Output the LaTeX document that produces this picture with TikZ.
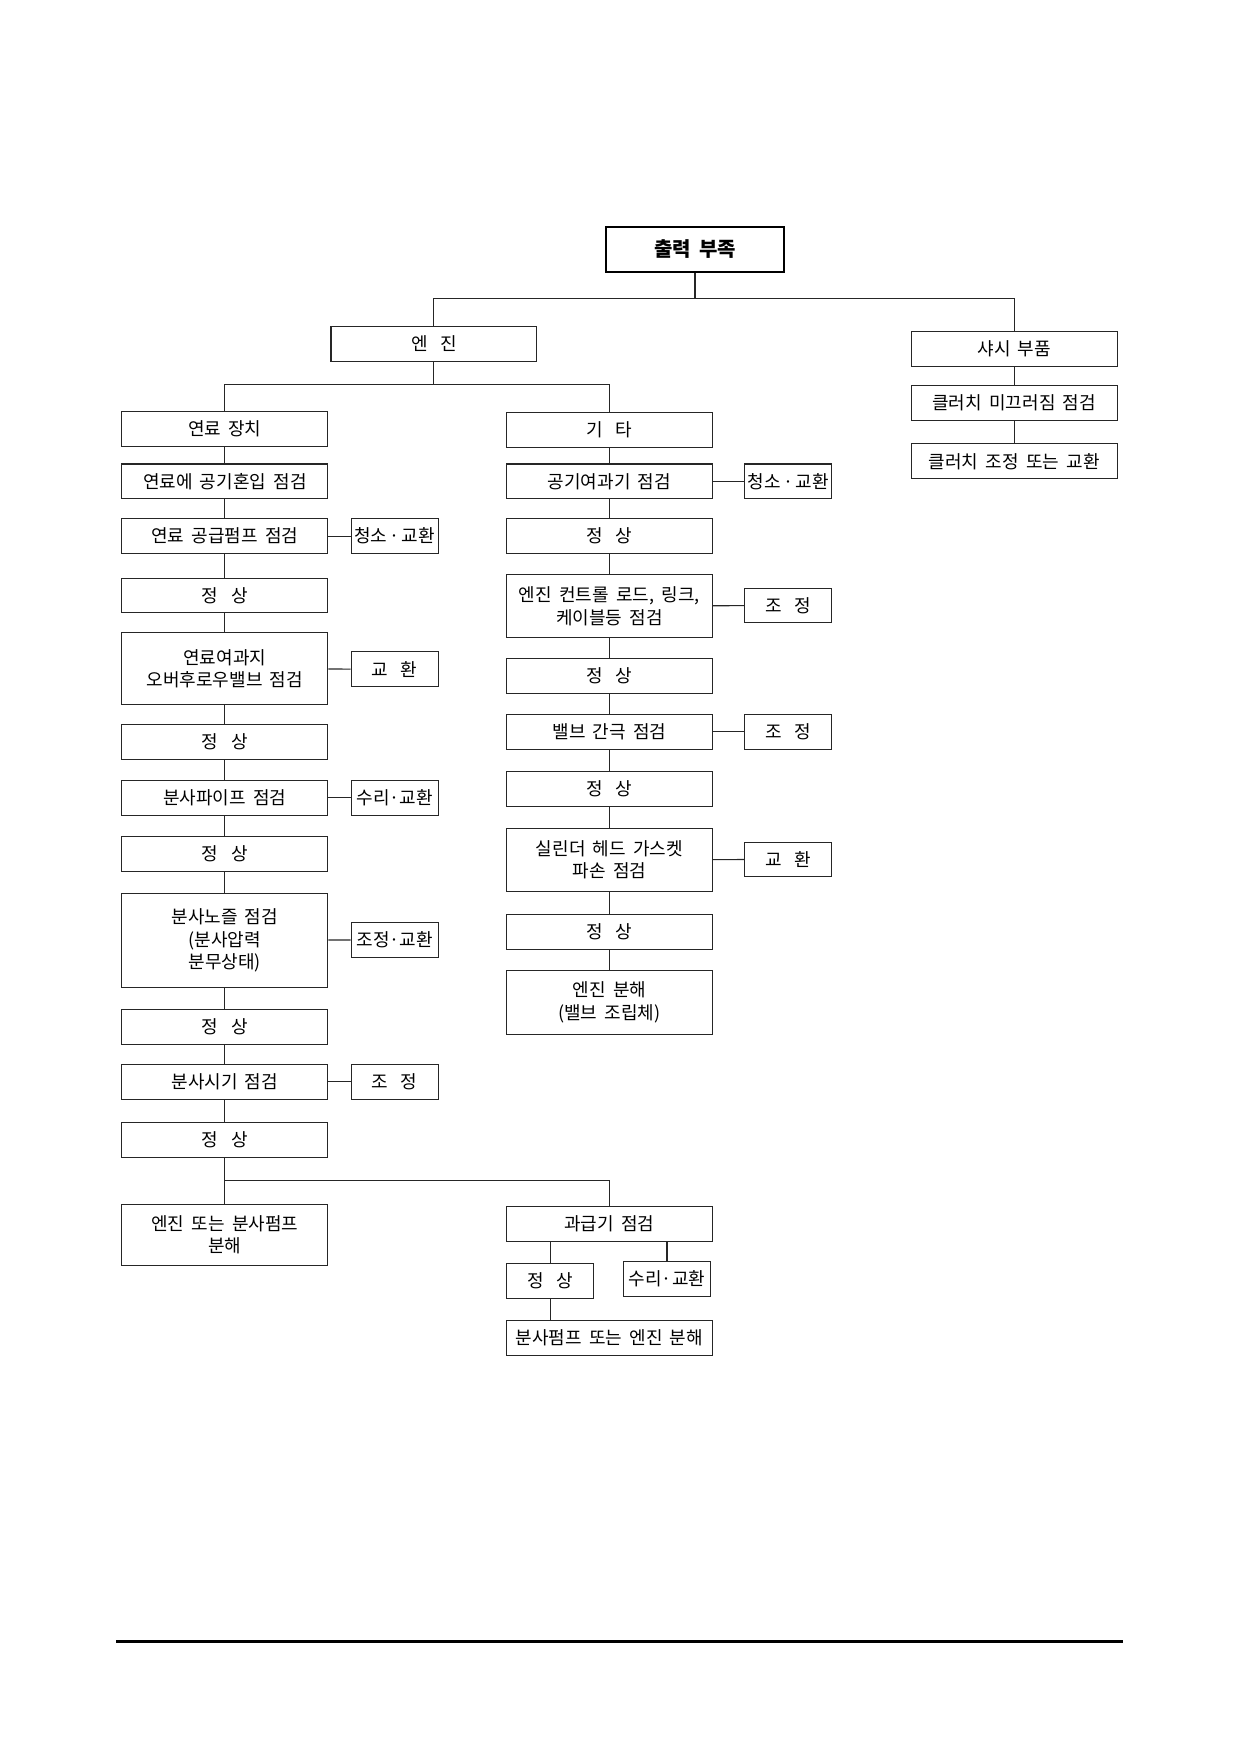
\documentclass[tikz,border=0pt]{standalone}
\usepackage{fontspec}
\newfontfamily\kr[WordSpace=1.8]{Noto Sans CJK KR}
\newcommand{\wsp}{\hspace{0.7em}}
\newcommand{\dsp}{\hspace{0.12em}}
\tikzset{
  box/.style={draw=black!85, line width=0.55pt, inner sep=0pt, minimum width=102.9pt, minimum height=17.35pt, align=center, font=\kr\fontsize{9}{11.2}\selectfont},
  sidebox/.style={box, minimum width=43.6pt},
  topbox/.style={box, draw=black, line width=1.1pt, minimum width=89pt, minimum height=22.5pt, font=\kr\bfseries\fontsize{10}{12}\selectfont},
  link/.style={draw=black!85, line width=0.55pt}
}
\begin{document}
\begin{tikzpicture}[x=0.5pt,y=-0.5pt]
\useasboundingbox (0,0) rectangle (1239,1754);
\node[topbox] (top) at (695,249.5) {출력 부족};
\node[box] (engine) at (433.9,343.8) {엔\wsp 진};
\node[box] (chassis) at (1014.2,348.9) {샤시 부품};
\node[box] (clutchA) at (1014.2,403.1) {클러치 미끄러짐 점검};
\node[box] (clutchB) at (1014.2,461.3) {클러치 조정 또는 교환};
\node[box] (fuel) at (224.8,428.8) {연료 장치};
\node[box] (etc) at (609.4,430) {기\wsp 타};
\node[box] (f1) at (224.8,481.4) {연료에 공기혼입 점검};
\node[box] (f2) at (224.8,536.2) {연료 공급펌프 점검};
\node[box] (f3) at (224.8,595.4) {정\wsp 상};
\node[box, minimum height=35.8pt] (f4) at (224.8,668.7) {연료여과지\\오버후로우밸브 점검};
\node[box] (f5) at (224.8,741.9) {정\wsp 상};
\node[box] (f6) at (224.8,797.8) {분사파이프 점검};
\node[box] (f7) at (224.8,853.7) {정\wsp 상};
\node[box, minimum height=47pt] (f8) at (224.8,940.4) {분사노즐 점검\\(분사압력\\분무상태)};
\node[box] (f9) at (224.8,1027.1) {정\wsp 상};
\node[box] (f10) at (224.8,1081.9) {분사시기 점검};
\node[box] (f11) at (224.8,1140) {정\wsp 상};
\node[box, minimum height=30.8pt] (f12) at (224.8,1235) {엔진 또는 분사펌프\\분해};
\node[sidebox] (f2s) at (394.7,536.2) {청소\dsp{}·\dsp{}교환};
\node[sidebox] (f4s) at (394.7,669.2) {교\wsp 환};
\node[sidebox] (f6s) at (394.7,797.8) {수리·교환};
\node[sidebox] (f8s) at (394.7,939.8) {조정·교환};
\node[sidebox] (f10s) at (394.7,1081.9) {조\wsp 정};
\node[box] (e1) at (609.4,481.4) {공기여과기 점검};
\node[box] (e2) at (609.4,536.2) {정\wsp 상};
\node[box, minimum height=31.3pt] (e3) at (609.4,606.1) {엔진 컨트롤 로드, 링크,\\케이블등 점검};
\node[box] (e4) at (609.4,676) {정\wsp 상};
\node[box] (e5) at (609.4,731.9) {밸브 간극 점검};
\node[box] (e6) at (609.4,788.9) {정\wsp 상};
\node[box, minimum height=31.3pt] (e7) at (609.4,859.9) {실린더 헤드 가스켓\\파손 점검};
\node[box] (e8) at (609.4,932) {정\wsp 상};
\node[box, minimum height=31.9pt] (e9) at (609.4,1002.5) {엔진 분해\\(밸브 조립체)};
\node[sidebox] (e1s) at (788.3,481.4) {청소\dsp{}·\dsp{}교환};
\node[sidebox] (e3s) at (788.3,605.5) {조\wsp 정};
\node[sidebox] (e5s) at (788.3,731.9) {조\wsp 정};
\node[sidebox] (e7s) at (788.3,859.4) {교\wsp 환};
\node[box] (turbo) at (609.4,1223.9) {과급기 점검};
\node[sidebox] (tnormal) at (550.1,1280.9) {정\wsp 상};
\node[sidebox] (trepair) at (667,1278.7) {수리·교환};
\node[box] (tend) at (609.4,1337.9) {분사펌프 또는 엔진 분해};
\coordinate (j1) at (695,298.6);
\coordinate (j2) at (433.9,384.7);
\coordinate (j3) at (224.8,1180.8);
\draw[link] (top) -- (j1);
\draw[link] (engine.north) |- (j1) -| (chassis.north);
\draw[link] (chassis) -- (clutchA) -- (clutchB);
\draw[link] (engine) -- (j2);
\draw[link] (fuel.north) |- (j2) -| (etc.north);
\draw[link] (fuel) -- (f1) -- (f2) -- (f3) -- (f4) -- (f5) -- (f6) -- (f7) -- (f8) -- (f9) -- (f10) -- (f11) -- (f12);
\draw[link] (j3) -| (turbo.north);
\draw[link] (etc) -- (e1) -- (e2) -- (e3) -- (e4) -- (e5) -- (e6) -- (e7) -- (e8) -- (e9);
\draw[link] (f2) -- (f2s);
\draw[link] (f4) -- (f4s);
\draw[link] (f6) -- (f6s);
\draw[link] (f8) -- (f8s);
\draw[link] (f10) -- (f10s);
\draw[link] (e1) -- (e1s);
\draw[link] (e3) -- (e3s);
\draw[link] (e5) -- (e5s);
\draw[link] (e7) -- (e7s);
\draw[link] (turbo.south -| tnormal.north) -- (tnormal);
\draw[link] (turbo.south -| trepair.north) -- (trepair);
\draw[link] (tnormal) -- (tend.north -| tnormal.south);
\draw[line width=1.5pt] (116.3,1641.5) -- (1122.7,1641.5);
\end{tikzpicture}
\end{document}
